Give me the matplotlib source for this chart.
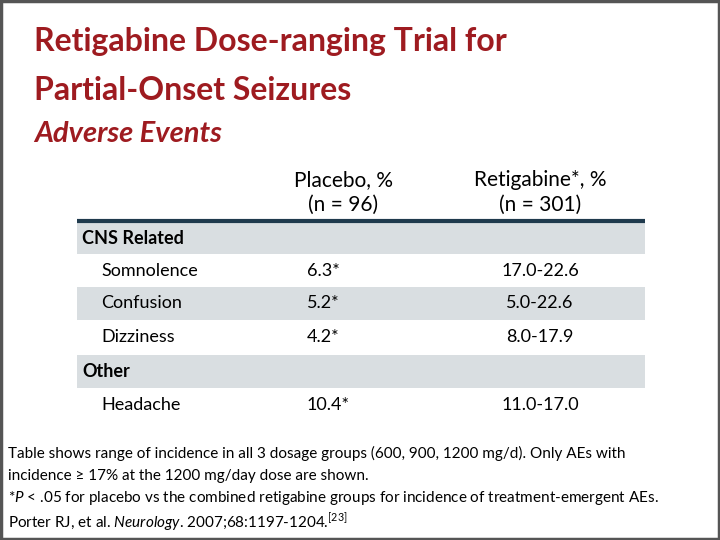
import matplotlib
matplotlib.use("Agg")
import matplotlib.pyplot as plt
from matplotlib.patches import Rectangle

plt.rcParams['font.family'] = ['Lato', 'DejaVu Sans']
plt.rcParams['mathtext.fontset'] = 'custom'
plt.rcParams['mathtext.rm'] = 'Lato'
plt.rcParams['mathtext.it'] = 'Lato:italic'

title_lines = ["Retigabine Dose-ranging Trial for", "Partial-Onset Seizures"]
subtitle = "Adverse Events"
col_headers = ["Placebo, %\n(n = 96)", "Retigabine*, %\n(n = 301)"]
rows = ["CNS Related", "Somnolence", "Confusion", "Dizziness", "Other", "Headache"]
is_group = [True, False, False, False, True, False]
placebo = ["", "6.3*", "5.2*", "4.2*", "", "10.4*"]
retigabine = ["", "17.0-22.6", "5.0-22.6", "8.0-17.9", "", "11.0-17.0"]
shaded = [True, False, True, False, True, False]

RED = "#9E1B20"
NAVY = "#1F3A4D"
GREY = "#D9DEE1"

fig = plt.figure(figsize=(7.2, 5.4), dpi=100)
ax = fig.add_axes([0, 0, 1, 1])
ax.set_xlim(0, 720)
ax.set_ylim(540, 0)
ax.axis("off")

# slide frame
ax.add_patch(Rectangle((1, 1), 718, 538, fill=False, ec="#555555", lw=2.5))

ax.text(34, 42, title_lines[0], color=RED, fontsize=23, va="center", fontweight="bold")
ax.text(34, 90, title_lines[1], color=RED, fontsize=23, va="center", fontweight="bold")
ax.text(34, 134, subtitle, color=RED, fontsize=21, va="center", style="italic", fontweight="bold")

xl, xr = 77, 645
col_x = [343, 540]
top = 222
heights = [32, 33, 33, 35, 33, 34]

for j, h in enumerate(col_headers):
    ax.text(col_x[j], 192, h, ha="center", va="center", fontsize=15, linespacing=1.3)

y = top
for i, name in enumerate(rows):
    h = heights[i]
    if shaded[i]:
        ax.add_patch(Rectangle((xl, y), xr - xl, h, color=GREY, lw=0))
    cy = y + h / 2
    if is_group[i]:
        ax.text(82, cy, name, fontsize=13, va="center", fontweight="bold")
    else:
        ax.text(101, cy, name, fontsize=13, va="center")
        ax.text(col_x[0] - 36, cy, placebo[i], fontsize=13, va="center")
        ax.text(col_x[1], cy, retigabine[i], fontsize=13, va="center", ha="center")
    y += h

ax.plot([xl, xr], [top - 1, top - 1], color=NAVY, lw=3, solid_capstyle="butt")

ax.text(8, 453, "Table shows range of incidence in all 3 dosage groups (600, 900, 1200 mg/d). Only AEs with",
        fontsize=11, va="center")
ax.text(8, 476, "incidence \u2265 17% at the 1200 mg/day dose are shown.", fontsize=11, va="center")
ax.text(8, 498, "*$\\it{P}$ < .05 for placebo vs the combined retigabine groups for incidence of treatment-emergent AEs.",
        fontsize=11, va="center")
ax.text(8, 523, "Porter RJ, et al. $\\it{Neurology}$. 2007;68:1197-1204.$^{[23]}$", fontsize=11, va="center")

fig.savefig("out.png", dpi=100)
